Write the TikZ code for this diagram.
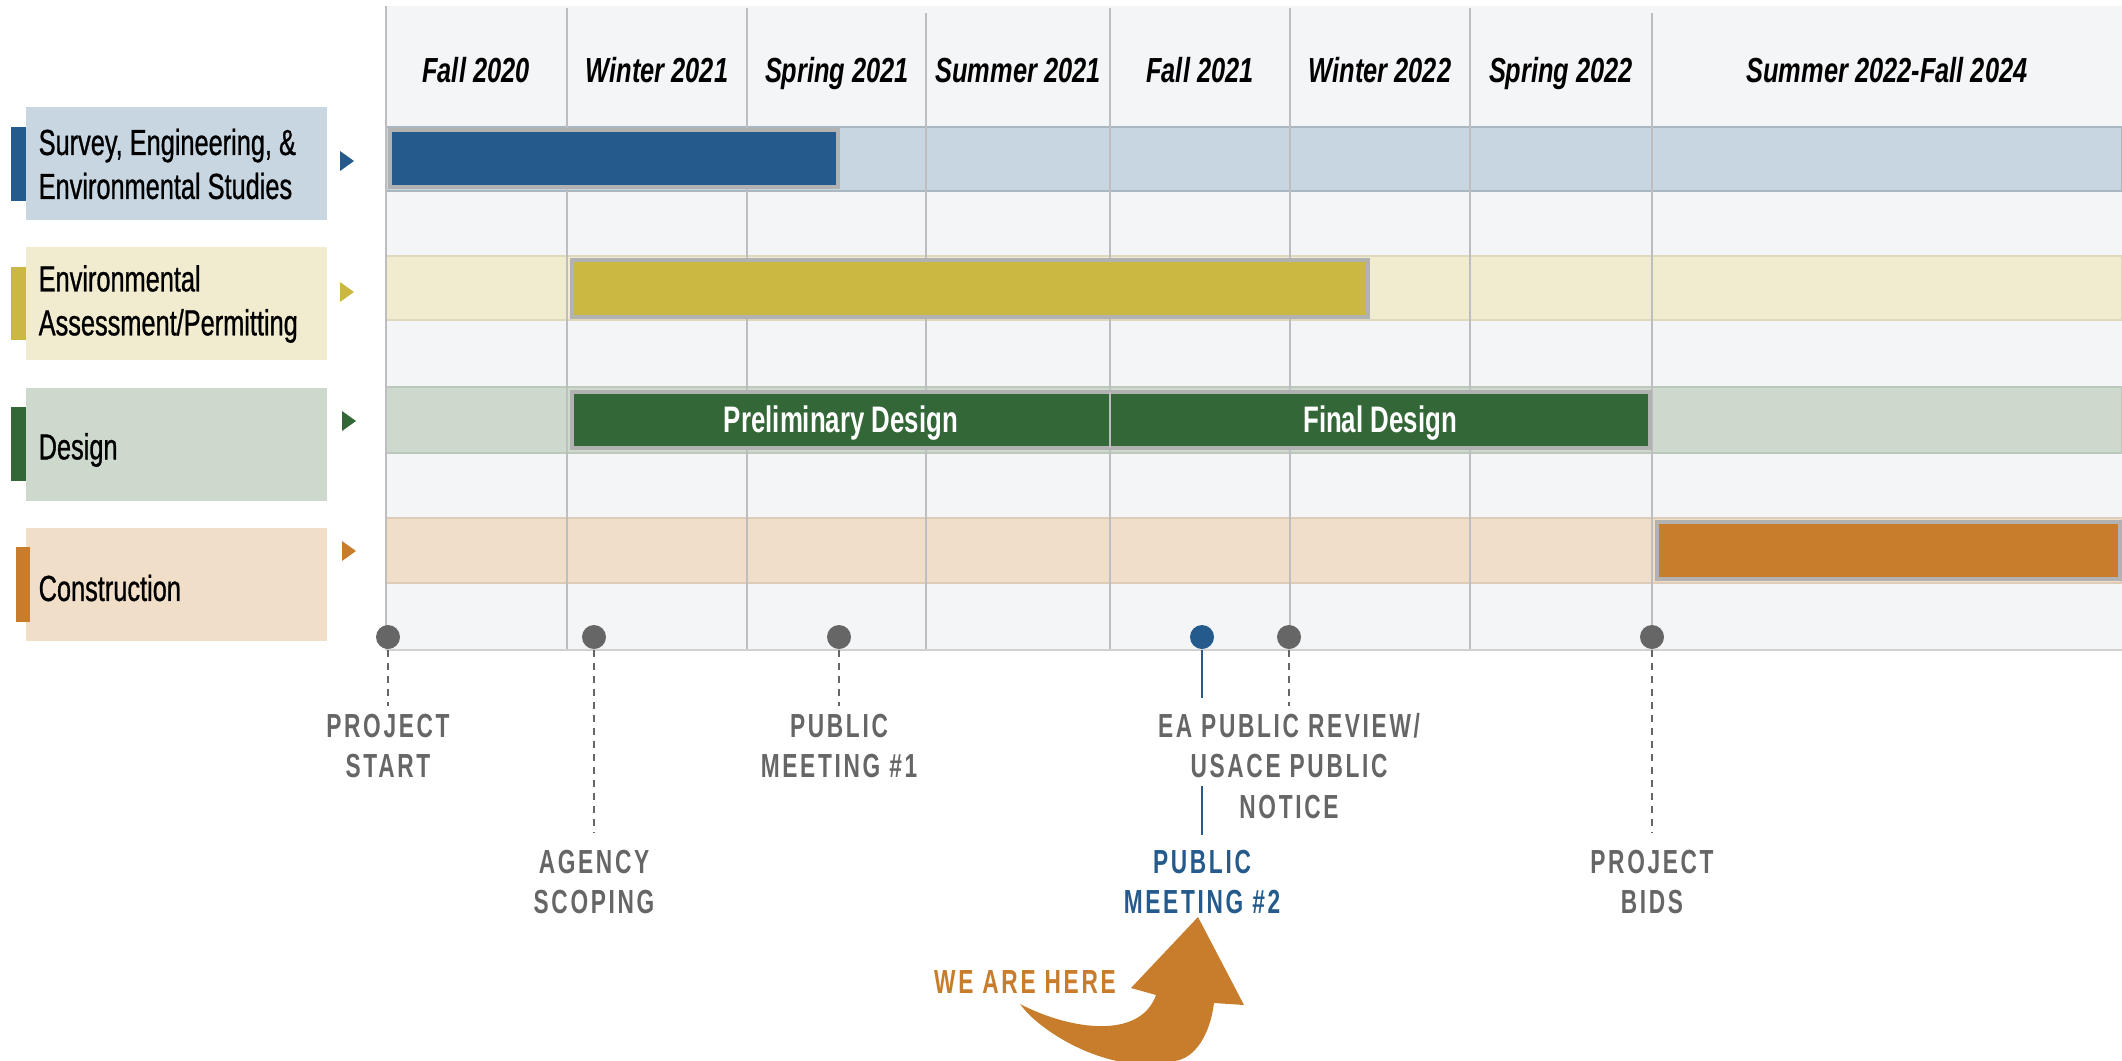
\documentclass[tikz,border=0pt]{standalone}
\usepackage{fontspec}
\setmainfont{Liberation Sans}
\newfontfamily\headfont[FakeStretch=0.73]{Liberation Sans}
\newfontfamily\rowfont[FakeStretch=0.70,FakeBold=0.8]{Liberation Sans}
\newfontfamily\barfont[FakeStretch=0.70]{Liberation Sans}
\newfontfamily\tagfont[FakeStretch=0.68,LetterSpace=8]{Liberation Sans}
\definecolor{surveyblue}{RGB}{36,91,140}
\definecolor{surveylight}{RGB}{200,214,226}
\definecolor{envgold}{RGB}{203,184,67}
\definecolor{envlight}{RGB}{241,235,207}
\definecolor{designgreen}{RGB}{51,103,55}
\definecolor{designlight}{RGB}{205,217,204}
\definecolor{buildorange}{RGB}{199,125,43}
\definecolor{buildlight}{RGB}{241,222,200}
\definecolor{gridbg}{RGB}{244,245,247}
\definecolor{gridgray}{RGB}{190,190,192}
\definecolor{tagtext}{RGB}{102,102,102}

\begin{document}
\begin{tikzpicture}[x=0.1mm, y=-0.1mm,
    colhead/.style={anchor=base, font=\headfont\bfseries\itshape\fontsize{9.9}{12}\selectfont},
    rowtext/.style={anchor=west, align=left, inner sep=0pt, font=\rowfont\fontsize{10.3}{12.5}\selectfont},
    barlabel/.style={anchor=base, text=white, font=\barfont\bfseries\fontsize{10.5}{12}\selectfont},
    mslabel/.style={anchor=north, align=center, inner sep=0pt, text=tagtext, font=\tagfont\bfseries\fontsize{9.5}{11.4}\selectfont},
    milestone/.style={circle, fill=tagtext, inner sep=0pt, minimum size=2.4mm},
    phasebar/.style={draw=black!30, line width=0.9pt},
    gridline/.style={draw=gridgray, line width=0.5pt},
    stem/.style={draw=tagtext, line width=0.5pt, dash pattern=on 2.2pt off 1.5pt}]
  \useasboundingbox (0,0) rectangle (2122,1061);
  \fill[gridbg] (386,6) rectangle (2122,650);

  \filldraw[fill=surveylight, draw=surveylight!85!black, line width=0.3pt] (386,127) rectangle (2122,191);
  \filldraw[fill=envlight, draw=envlight!92!black, line width=0.3pt] (386,256) rectangle (2122,320);
  \filldraw[fill=designlight, draw=designlight!92!black, line width=0.3pt] (386,387) rectangle (2122,453);
  \filldraw[fill=buildlight, draw=buildlight!92!black, line width=0.3pt] (386,518) rectangle (2122,583);

  \draw[gridline] (386,6) -- (386,650);
  \draw[gridline] (567,8) -- (567,650);
  \draw[gridline] (747,8) -- (747,650);
  \draw[gridline] (926,13) -- (926,650);
  \draw[gridline] (1110,8) -- (1110,650);
  \draw[gridline] (1290,8) -- (1290,650);
  \draw[gridline] (1470,8) -- (1470,650);
  \draw[gridline] (1652,13) -- (1652,650);
  \draw[draw=black!18, line width=0.8pt] (386,650) -- (2122,650);

  \node[colhead] (h1) at (476,82) {Fall 2020};
  \node[colhead] (h2) at (657,82) {Winter 2021};
  \node[colhead] (h3) at (837,82) {Spring 2021};
  \node[colhead] (h4) at (1018,82) {Summer 2021};
  \node[colhead] (h5) at (1200,82) {Fall 2021};
  \node[colhead] (h6) at (1380,82) {Winter 2022};
  \node[colhead] (h7) at (1561,82) {Spring 2022};
  \node[colhead] (h8) at (1887,82) {Summer 2022-Fall 2024};

  \filldraw[phasebar, fill=surveyblue] (390,130) rectangle (838,187);
  \filldraw[phasebar, fill=envgold] (572,260) rectangle (1368,317);
  \filldraw[phasebar, fill=designgreen] (572,392) rectangle (1650,448);
  \draw[gridgray, line width=0.4pt] (1110,392) -- (1110,448);
  \filldraw[phasebar, fill=buildorange] (1657,522) rectangle (2120,579);
  \node[barlabel] (pd) at (841,432) {Preliminary Design};
  \node[barlabel] (fd) at (1380,432) {Final Design};

  \fill[surveylight] (26,107) rectangle (327,220);
  \fill[surveyblue] (11,127) rectangle (26,201);
  \fill[surveyblue] (340,151) -- (354,161) -- (340,171) -- cycle;
  \node[rowtext] (S) at (38,164) {Survey, Engineering, \&\\Environmental Studies};

  \fill[envlight] (26,247) rectangle (327,360);
  \fill[envgold] (11,267) rectangle (26,340);
  \fill[envgold] (340,282) -- (354,292) -- (340,302) -- cycle;
  \node[rowtext] (E) at (38,304) {Environmental\\Assessment/Permitting};

  \fill[designlight] (26,388) rectangle (327,501);
  \fill[designgreen] (11,407) rectangle (26,481);
  \fill[designgreen] (342,411) -- (356,421) -- (342,431) -- cycle;
  \node[rowtext] (D) at (38,450) {Design};

  \fill[buildlight] (26,528) rectangle (327,641);
  \fill[buildorange] (16,547) rectangle (30,622);
  \fill[buildorange] (342,541) -- (356,551) -- (342,561) -- cycle;
  \node[rowtext] (C) at (38,588) {Construction};

  \node[milestone] (m1) at (388,637) {};
  \node[milestone] (m2) at (594,637) {};
  \node[milestone] (m3) at (839,637) {};
  \node[milestone, fill=surveyblue] (m4) at (1202,637) {};
  \node[milestone] (m5) at (1289,637) {};
  \node[milestone] (m6) at (1652,637) {};

  \node[mslabel] (l1) at (388,713) {PROJECT\\START};
  \node[mslabel] (l2) at (594,849) {AGENCY\\SCOPING};
  \node[mslabel] (l3) at (839,713) {PUBLIC\\MEETING \#1};
  \node[mslabel, text=surveyblue] (l4) at (1202,849) {PUBLIC\\MEETING \#2};
  \node[mslabel] (l5) at (1289,713) {EA PUBLIC REVIEW/\\USACE PUBLIC\\NOTICE};
  \node[mslabel] (l6) at (1652,849) {PROJECT\\BIDS};

  \draw[stem, shorten >=0.7mm] (m1) -- (l1);
  \draw[stem, shorten >=1.6mm] (m2) -- (l2);
  \draw[stem, shorten >=0.7mm] (m3) -- (l3);
  \draw[stem, shorten >=0.7mm] (m5) -- (l5);
  \draw[stem, shorten >=1.6mm] (m6) -- (l6);
  \coordinate (p1) at (1202,698);
  \coordinate (p2) at (1202,786);
  \draw[surveyblue, line width=0.6pt] (m4) -- (p1);
  \draw[surveyblue, line width=0.6pt, shorten >=1.4mm] (p2) -- (l4);

  \fill[buildorange] (1020,1004) .. controls (1070,1030) and (1140,1040) .. (1156,995)
    -- (1131,988) -- (1198,917) -- (1244,1005) -- (1214,1003)
    .. controls (1210,1035) and (1195,1058) .. (1175,1061) -- (1117,1061)
    .. controls (1075,1052) and (1035,1025) .. cycle;
  \node[mslabel, anchor=base, text=buildorange] (here) at (1025,993) {WE ARE HERE};
\end{tikzpicture}
\end{document}
